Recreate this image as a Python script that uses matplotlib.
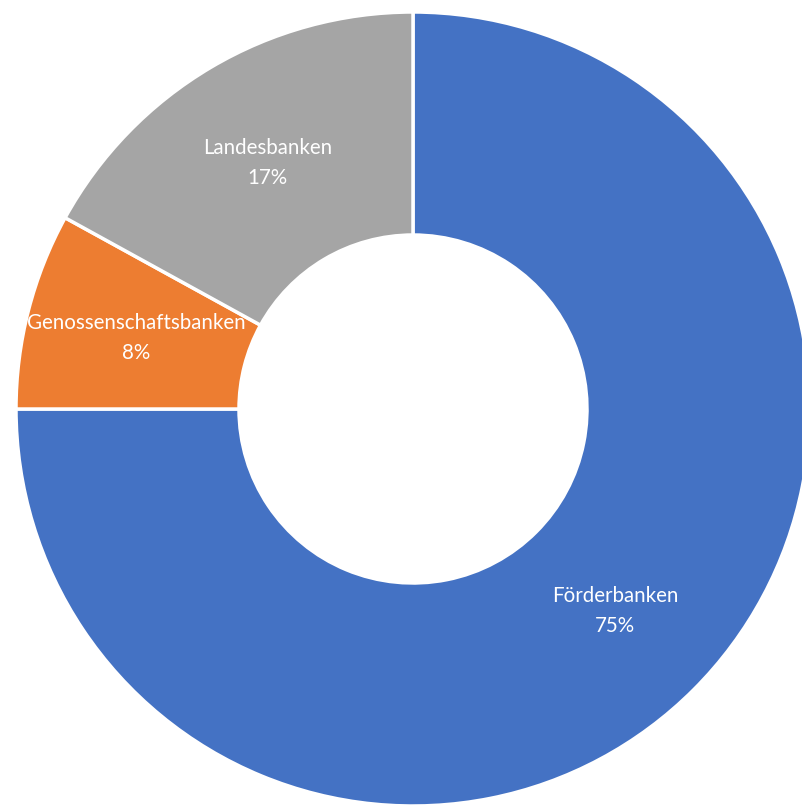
import matplotlib
matplotlib.use("Agg")
import matplotlib.pyplot as plt

categories = ["Förderbanken", "Genossenschaftsbanken", "Landesbanken"]
values = [75, 8, 17]
colors = ["#4472C4", "#ED7D31", "#A5A5A5"]

W, H = 803, 805
fig = plt.figure(figsize=(W / 100, H / 100), dpi=100)
ax = fig.add_axes([0, 0, 1, 1])

cx, cy = 413, H - 409
R, r_in = 397, 174

labels_iter = iter(categories)

def fmt(p):
    return f"{next(labels_iter)}\n{p:.0f}%"

wedges, texts, autotexts = ax.pie(
    values, colors=colors, startangle=90, counterclock=False,
    radius=R, center=(cx, cy), frame=True,
    wedgeprops=dict(width=R - r_in, edgecolor="white", linewidth=2.5),
    autopct=fmt, pctdistance=(R + r_in) / 2 / R,
    textprops=dict(color="white", fontsize=14.8, family="Lato", linespacing=1.6),
)
ax.set_xlim(0, W)
ax.set_ylim(0, H)
ax.set_aspect("equal")
ax.axis("off")

fig.savefig("out.png", dpi=100)
